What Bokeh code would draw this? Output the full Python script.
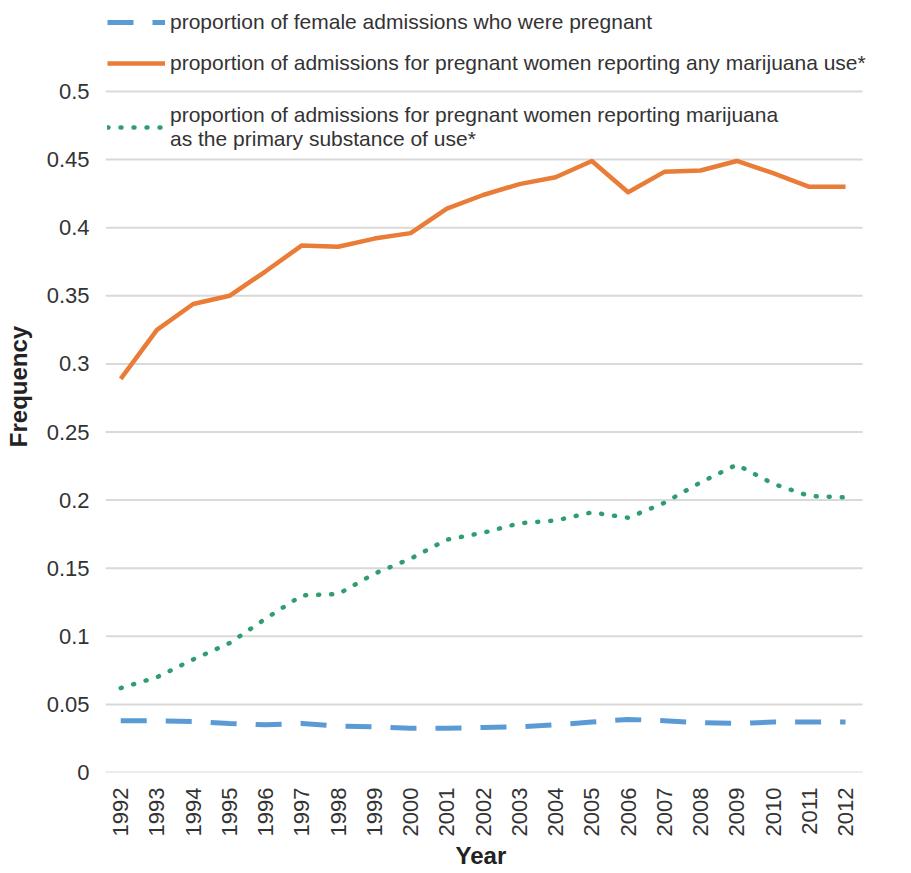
import math
from bokeh.plotting import figure
from bokeh.models import Range1d, FixedTicker, Legend, LegendItem, Title
from bokeh.embed import file_html
from bokeh.resources import INLINE

# ---- data ----
years = list(range(1992, 2013))
pregnant_share = [0.038, 0.038, 0.0375, 0.036, 0.035, 0.036, 0.034, 0.0335, 0.0325, 0.0325, 0.033,
                  0.0335, 0.035, 0.037, 0.039, 0.038, 0.0365, 0.036, 0.037, 0.037, 0.037]
any_marijuana = [0.289, 0.325, 0.344, 0.350, 0.368, 0.387, 0.386, 0.392, 0.396, 0.414, 0.424,
                 0.432, 0.437, 0.449, 0.426, 0.441, 0.442, 0.449, 0.440, 0.430, 0.430]
primary_marijuana = [0.062, 0.070, 0.083, 0.095, 0.113, 0.130, 0.131, 0.146, 0.157, 0.171, 0.176,
                     0.183, 0.185, 0.191, 0.187, 0.198, 0.213, 0.226, 0.212, 0.203, 0.202]
y_tick_values = [0, 0.05, 0.1, 0.15, 0.2, 0.25, 0.3, 0.35, 0.4, 0.45, 0.5]
y_tick_labels = ["0", "0.05", "0.1", "0.15", "0.2", "0.25", "0.3", "0.35", "0.4", "0.45", "0.5"]
labels = ["proportion of female admissions who were pregnant",
          "proportion of admissions for pregnant women reporting any marijuana use*",
          "proportion of admissions for pregnant women reporting marijuana\nas the primary substance of use*"]
x_title = "Year"
y_title = "Frequency"

FONT = "Liberation Sans"
TXT = "#333333"

W, H = 911, 873
FRAME_BOTTOM_BORDER = 101
FRAME_H = H - FRAME_BOTTOM_BORDER          # frame spans from the top edge
TOP_SPACE = 91                              # pixels above the 0.5 gridline (legend area)
y_end = 0.5 * FRAME_H / (FRAME_H - TOP_SPACE)

X_START = 1991.58      # left end of the gridded plot area
GRID_END = 2012.47     # right end of the gridded plot area
X_END = 2013.82        # frame continues to the page edge so the legend text is not clipped

p = figure(width=W, height=H, output_backend="svg", toolbar_location=None,
           x_range=Range1d(X_START, X_END), y_range=Range1d(0, y_end),
           min_border_left=105, min_border_right=0, min_border_top=0,
           min_border_bottom=FRAME_BOTTOM_BORDER)
p.outline_line_color = None
p.background_fill_color = "white"
p.border_fill_color = "white"
p.xgrid.visible = False
p.ygrid.visible = False

# horizontal gridlines, limited to the plot area
p.segment(x0=[X_START] * len(y_tick_values), x1=[GRID_END] * len(y_tick_values),
          y0=y_tick_values, y1=y_tick_values, line_color="#d9d9d9", line_width=2,
          level="underlay")

rb = p.line(years, pregnant_share, line_color="#5B9BD5", line_width=5, line_dash="26 19")
ro = p.line(years, any_marijuana, line_color="#E97C36", line_width=4.5, line_join="round")
rg = p.line(years, primary_marijuana, line_color="#2F9E6E", line_width=4.5, line_dash="1 12",
            line_cap="round")

p.yaxis.ticker = FixedTicker(ticks=y_tick_values)
p.yaxis.major_label_overrides = dict(zip(y_tick_values, y_tick_labels))
p.xaxis.ticker = FixedTicker(ticks=years)
p.xaxis.major_label_orientation = math.pi / 2

for ax in (p.xaxis[0], p.yaxis[0]):
    ax.axis_line_color = None
    ax.major_tick_line_color = None
    ax.minor_tick_line_color = None
    ax.major_label_text_font = FONT
    ax.major_label_text_font_size = "22px"
    ax.major_label_text_color = TXT
    ax.axis_label_text_font = FONT
    ax.axis_label_text_font_size = "24px"
    ax.axis_label_text_font_style = "bold"
    ax.axis_label_text_color = "#222222"

p.yaxis.axis_label = y_title
p.yaxis.major_label_standoff = 10
p.yaxis.axis_label_standoff = 12
p.xaxis.major_label_standoff = 9

# x-axis title centred under the gridded area (not under the wider frame)
p.add_layout(Title(text=x_title, align="left", offset=350, standoff=0,
                   text_font=FONT, text_font_size="24px", text_font_style="bold",
                   text_color="#222222"), "below")


def make_legend(items, loc, spacing):
    lg = Legend(items=items, location=loc, padding=0, margin=0, spacing=spacing,
                glyph_width=58, glyph_height=22, label_standoff=5,
                label_text_font=FONT, label_text_font_size="21px", label_text_color=TXT,
                label_text_line_height=1.0,
                border_line_color=None, background_fill_alpha=0)
    return lg


leg_a = make_legend([LegendItem(label=labels[0], renderers=[rb]),
                     LegendItem(label=labels[1], renderers=[ro])], (2, 697), 17)
leg_b = make_legend([LegendItem(label=labels[2], renderers=[rg])], (2, 621), 0)
p.add_layout(leg_a)
p.add_layout(leg_b)

open("out.html", "w").write(file_html(p, INLINE))
